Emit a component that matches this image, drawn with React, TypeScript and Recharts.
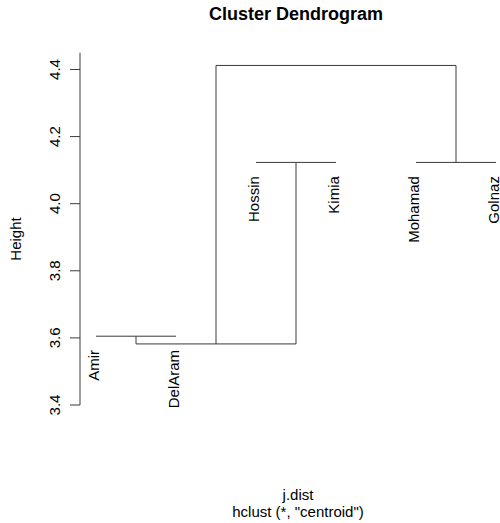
import { ComposedChart, Line, Scatter, XAxis, YAxis } from "recharts";

// leaf order as drawn, left to right
const leafNames = ["Amir", "DelAram", "Hossin", "Kimia", "Mohamad", "Golnaz"];

// hclust-style merge matrix: negative = leaf index (1-based), positive = earlier merge
const mergeLeft = [-1, -3, -5, 1, 4];
const mergeRight = [-2, -4, -6, 2, 3];
const mergeHeights = [3.605, 4.123, 4.123, 3.582, 4.412];

const yTicks = [3.4, 3.6, 3.8, 4.0, 4.2, 4.4];

const FONT = '"Liberation Sans", Arial, Helvetica, sans-serif';
const INK = "#3a3a3a";

type Pt = { x: number; y: number };

// position of each merge node (x = mean of children, y = height)
function buildTree() {
  const nodes: Pt[] = [];
  const leafParentH: number[] = [];
  const segments: Pt[][] = [];
  const childPos = (c: number, h: number): Pt =>
    c < 0 ? { x: -c, y: h } : nodes[c - 1];
  mergeHeights.forEach((h, i) => {
    const l = childPos(mergeLeft[i], h);
    const r = childPos(mergeRight[i], h);
    if (mergeLeft[i] < 0) leafParentH[-mergeLeft[i] - 1] = h;
    if (mergeRight[i] < 0) leafParentH[-mergeRight[i] - 1] = h;
    segments.push([
      { x: l.x, y: l.y },
      { x: l.x, y: h },
      { x: r.x, y: h },
      { x: r.x, y: r.y },
    ]);
    nodes.push({ x: (l.x + r.x) / 2, y: h });
  });
  const leaves = leafNames.map((name, i) => ({
    x: i + 1,
    y: leafParentH[i],
    name,
  }));
  return { segments, leaves };
}

const { segments, leaves } = buildTree();

const YTick = (props: any) => {
  const { x, y, payload } = props;
  return (
    <text
      transform={`translate(${x - 10.5},${y}) rotate(-90)`}
      textAnchor="middle"
      fontSize={15}
      fontFamily={FONT}
      fill="#000"
    >
      {Number(payload.value).toFixed(1)}
    </text>
  );
};

const LeafLabel = (props: any) => {
  const { cx, cy, payload } = props;
  return (
    <text
      transform={`translate(${cx + 3.3},${cy + 13.7}) rotate(-90)`}
      textAnchor="end"
      fontSize={15}
      fontFamily={FONT}
      fill="#000"
    >
      {payload.name}
    </text>
  );
};

export default function App() {
  return (
    <div
      style={{
        position: "absolute",
        left: 0,
        top: 0,
        width: 500,
        height: 523,
        background: "#fff",
        overflow: "hidden",
      }}
    >
      <ComposedChart
        width={500}
        height={523}
        margin={{ top: 52.7, right: 0, bottom: 118, left: 0 }}
      >
        <XAxis type="number" dataKey="x" domain={[0.8, 6.05]} hide />
        <YAxis
          type="number"
          dataKey="y"
          width={80}
          domain={[3.4, 4.45]}
          ticks={yTicks}
          tickSize={10}
          tickMargin={0}
          stroke={INK}
          tick={<YTick />}
        />
        {segments.map((pts, i) => (
          <Line
            key={i}
            data={pts}
            dataKey="y"
            type="linear"
            stroke={INK}
            strokeWidth={1}
            dot={false}
            activeDot={false}
            isAnimationActive={false}
          />
        ))}
        <Scatter
          data={leaves}
          dataKey="y"
          shape={<LeafLabel />}
          isAnimationActive={false}
        />
      </ComposedChart>
      <svg
        width={500}
        height={523}
        style={{ position: "absolute", left: 0, top: 0, pointerEvents: "none" }}
        fontFamily={FONT}
      >
        <text x={296} y={19.5} textAnchor="middle" fontSize={18} fontWeight="bold">
          Cluster Dendrogram
        </text>
        <text
          transform="translate(20.7,239) rotate(-90)"
          textAnchor="middle"
          fontSize={15}
        >
          Height
        </text>
        <text x={298} y={500} textAnchor="middle" fontSize={15}>
          j.dist
        </text>
        <text x={298} y={517} textAnchor="middle" fontSize={15}>
          hclust (*, "centroid")
        </text>
      </svg>
    </div>
  );
}
